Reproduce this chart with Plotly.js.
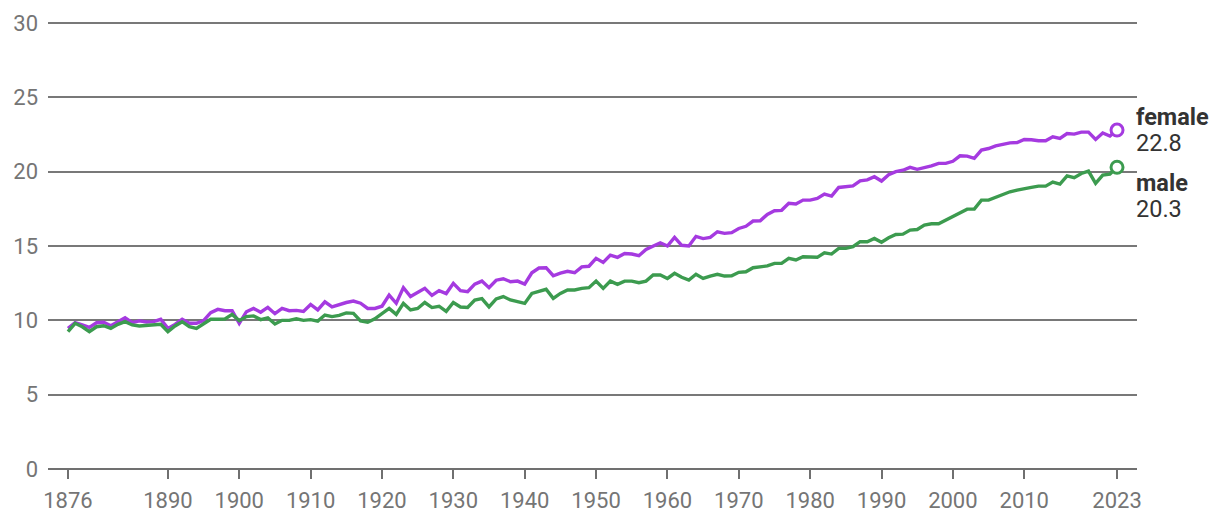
<!DOCTYPE html>
<html>
<head>
<meta charset="utf-8">
<script src="https://cdn.plot.ly/plotly-3.0.1.min.js"></script>
<style>html,body{margin:0;padding:0;background:#fff;}#chart{width:1220px;height:530px;}</style>
</head>
<body>
<div id="chart"></div>
<script>
const startYear = 1876;
const female = [
9.46,9.84,9.69,9.53,9.84,9.87,9.64,9.91,10.18,9.84,
9.96,9.89,9.91,10.07,9.46,9.73,10.07,9.8,9.8,9.98,
10.52,10.74,10.65,10.65,9.8,10.58,10.8,10.55,10.87,10.45,
10.8,10.65,10.67,10.6,11.07,10.7,11.25,10.9,11.07,11.2,
11.3,11.15,10.8,10.8,10.95,11.7,11.15,12.2,11.6,11.85,
12.15,11.68,12.0,11.8,12.49,12.0,11.93,12.44,12.64,12.2,
12.7,12.8,12.6,12.64,12.44,13.2,13.52,13.54,13.0,13.17,
13.3,13.2,13.6,13.64,14.17,13.9,14.39,14.24,14.5,14.46,
14.35,14.77,15.0,15.22,15.0,15.58,15.05,15.0,15.65,15.5,
15.58,15.96,15.85,15.9,16.18,16.33,16.68,16.7,17.13,17.37,
17.4,17.87,17.83,18.09,18.09,18.2,18.49,18.36,18.94,18.98,
19.05,19.39,19.45,19.66,19.37,19.8,20.0,20.1,20.29,20.16,
20.27,20.39,20.56,20.56,20.7,21.07,21.05,20.9,21.45,21.56,
21.74,21.83,21.94,21.96,22.17,22.15,22.08,22.08,22.35,22.24,
22.57,22.53,22.66,22.66,22.17,22.6,22.4,22.8];
const male = [
9.24,9.8,9.57,9.24,9.57,9.64,9.46,9.73,9.91,9.69,
9.62,9.66,9.69,9.73,9.24,9.62,9.91,9.57,9.46,9.75,
10.07,10.07,10.09,10.4,9.98,10.25,10.3,10.05,10.17,9.75,
10.0,10.0,10.1,10.0,10.05,9.95,10.36,10.25,10.33,10.5,
10.47,9.96,9.87,10.1,10.45,10.8,10.4,11.14,10.7,10.8,
11.2,10.86,10.95,10.6,11.2,10.9,10.87,11.37,11.46,10.9,
11.44,11.6,11.37,11.25,11.14,11.81,11.93,12.09,11.48,11.81,
12.04,12.04,12.15,12.2,12.64,12.15,12.64,12.42,12.64,12.64,
12.53,12.64,13.05,13.05,12.82,13.16,12.9,12.71,13.1,12.82,
12.98,13.1,12.98,13.0,13.23,13.27,13.54,13.6,13.66,13.83,
13.83,14.17,14.06,14.28,14.24,14.24,14.55,14.46,14.84,14.84,
14.95,15.29,15.29,15.51,15.25,15.55,15.78,15.8,16.07,16.11,
16.41,16.5,16.5,16.75,17.01,17.28,17.48,17.48,18.09,18.09,
18.27,18.47,18.65,18.76,18.83,18.95,19.03,19.03,19.3,19.17,
19.72,19.6,19.88,20.04,19.21,19.77,19.84,20.3];
const xTicks = [1876,1890,1900,1910,1920,1930,1940,1950,1960,1970,1980,1990,2000,2010,2023];
const yTicks = [0,5,10,15,20,25,30];
const seriesNames = ['female','male'];
const colors = ['#a53ae0','#3c9b4f'];

const years = female.map((_, i) => startYear + i);
const lastYear = years[years.length - 1];
const series = [female, male];

const traces = [];
series.forEach((s, k) => {
  traces.push({x: years, y: s, type: 'scatter', mode: 'lines', name: seriesNames[k],
    line: {color: colors[k], width: 3.4}, hoverinfo: 'skip'});
  traces.push({x: [lastYear], y: [s[s.length - 1]], type: 'scatter', mode: 'markers',
    marker: {size: 12, color: '#ffffff', line: {color: colors[k], width: 3}},
    cliponaxis: false, hoverinfo: 'skip'});
});

// label block offsets (px) relative to the end point: name line, value line
const nameShift = [13, -16];
const valueShift = [-13, -42];
const annotations = [];
series.forEach((s, k) => {
  const v = s[s.length - 1];
  annotations.push({
    x: lastYear, y: v, xref: 'x', yref: 'y', xanchor: 'left', yanchor: 'middle',
    xshift: 17, yshift: nameShift[k], showarrow: false,
    text: '<b>' + seriesNames[k] + '</b>',
    font: {family: 'Roboto, sans-serif', size: 23.5, color: '#333333'}
  });
  annotations.push({
    x: lastYear, y: v, xref: 'x', yref: 'y', xanchor: 'left', yanchor: 'middle',
    xshift: 17, yshift: valueShift[k], showarrow: false,
    text: v.toFixed(1),
    font: {family: 'Roboto, sans-serif', size: 23.5, color: '#333333'}
  });
});

const layout = {
  width: 1220, height: 530,
  margin: {l: 48, r: 83, t: 22, b: 61},
  paper_bgcolor: '#ffffff', plot_bgcolor: '#ffffff',
  showlegend: false,
  font: {family: 'Roboto, sans-serif', color: '#757575', size: 22},
  xaxis: {
    range: [1873.2, 2025.8], tickmode: 'array', tickvals: xTicks,
    ticktext: xTicks.map(String), showgrid: false, zeroline: false,
    ticks: 'outside', ticklen: 9, tickwidth: 2, tickcolor: '#707070',
    showline: false, ticklabelstandoff: 3,
    tickfont: {size: 22, color: '#757575'}, fixedrange: true
  },
  yaxis: {
    range: [0, 30.07], tickmode: 'array', tickvals: yTicks, ticktext: yTicks.map(String),
    showgrid: true, gridcolor: '#787878', gridwidth: 2, zeroline: true,
    zerolinecolor: '#707070', zerolinewidth: 2.5, showline: false, ticks: '',
    ticklabelstandoff: 9, tickfont: {size: 22, color: '#757575'}, fixedrange: true
  },
  annotations: annotations
};

Plotly.newPlot('chart', traces, layout, {displayModeBar: false, staticPlot: true});
</script>
</body>
</html>
